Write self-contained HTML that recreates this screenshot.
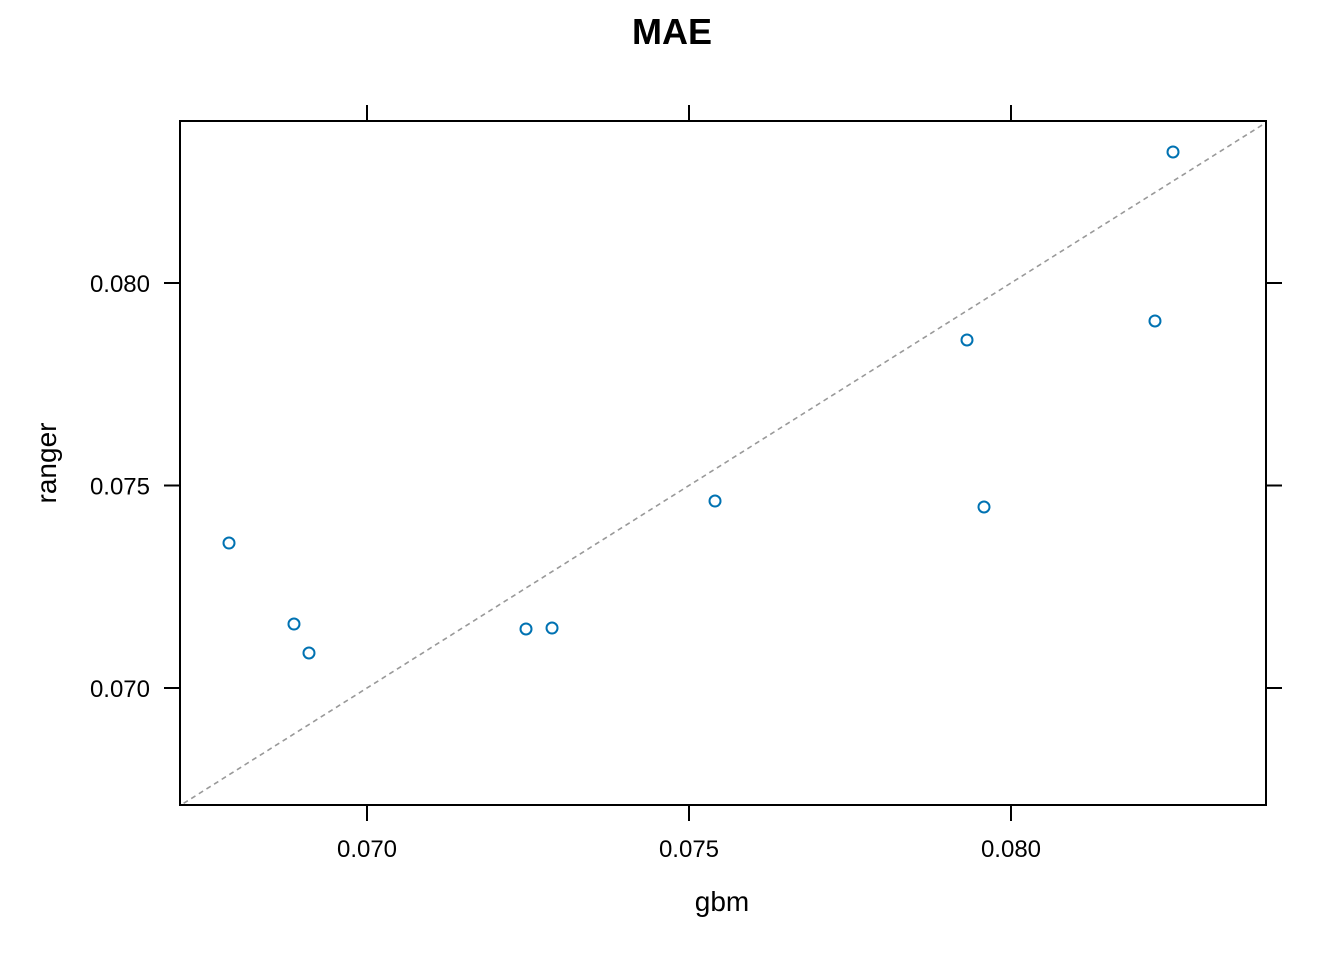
<!DOCTYPE html>
<html><head><meta charset="utf-8"><style>
html,body{margin:0;padding:0;background:#fff;width:1344px;height:960px;overflow:hidden;}
svg{display:block;font-family:"Liberation Sans",Arial,sans-serif;}
</style></head><body>
<svg id="chart" width="1344" height="960">
<text x="672" y="44" text-anchor="middle" font-size="36" font-weight="bold">MAE</text>
<text x="722" y="911" text-anchor="middle" font-size="28">gbm</text>
<text transform="translate(56,463) rotate(-90)" text-anchor="middle" font-size="28">ranger</text>
<defs><clipPath id="clip"><rect x="180" y="121" width="1086" height="684"/></clipPath></defs>
<g id="marks" clip-path="url(#clip)"></g>
<g id="axes"></g>
<rect x="180" y="121" width="1086" height="684" fill="none" stroke="#000" stroke-width="2"/>
</svg>
<script>
const gbm = [0.067857,0.068866,0.069099,0.072469,0.072873,0.075404,0.079317,0.079581,0.082236,0.082516];
const ranger = [0.073580,0.071580,0.070864,0.071457,0.071481,0.074617,0.078593,0.074469,0.079062,0.083235];
const xTicks = [0.070,0.075,0.080];
const yTicks = [0.070,0.075,0.080];
const xTickLabels = ["0.070","0.075","0.080"];
const yTickLabels = ["0.070","0.075","0.080"];

const X0=180,X1=1266,Y0=121,Y1=805;
const xMin=0.067096,xMax=0.083960,yMin=0.067111,yMax=0.084;
const sx=v=>X0+(v-xMin)/(xMax-xMin)*(X1-X0);
const sy=v=>Y1-(v-yMin)/(yMax-yMin)*(Y1-Y0);
const NS="http://www.w3.org/2000/svg";
const marks=document.getElementById('marks'), axes=document.getElementById('axes');
function mk(tag,attrs,parent){const e=document.createElementNS(NS,tag);for(const k in attrs)e.setAttribute(k,attrs[k]);parent.appendChild(e);return e;}

const lo=Math.min(xMin,yMin)-0.01, hi=Math.max(xMax,yMax)+0.01;
const diag=mk('line',{x1:sx(lo),y1:sy(lo),x2:sx(hi),y2:sy(hi),stroke:'#999',"stroke-width":1.6,"stroke-dasharray":"5,4"},marks);



gbm.forEach((g,i)=>{
  const c=mk('circle',{cx:sx(g),cy:sy(ranger[i]),r:5.5,fill:'none',stroke:'#0072B2',"stroke-width":2},marks);
  
  
});

xTicks.forEach((t,i)=>{
  const x=sx(t);
  const a=mk('line',{x1:x,y1:Y1,x2:x,y2:Y1+16,stroke:'#000',"stroke-width":2},axes);
  
  
  const b=mk('line',{x1:x,y1:Y0,x2:x,y2:Y0-16,stroke:'#000',"stroke-width":2},axes);
  
  
  const l=mk('text',{x:x,y:857,"text-anchor":"middle","font-size":24},axes);
  l.textContent=xTickLabels[i];
  
  
});
yTicks.forEach((t,i)=>{
  const y=sy(t);
  const a=mk('line',{x1:X0,y1:y,x2:X0-16,y2:y,stroke:'#000',"stroke-width":2},axes);
  
  
  const b=mk('line',{x1:X1,y1:y,x2:X1+16,y2:y,stroke:'#000',"stroke-width":2},axes);
  
  
  const l=mk('text',{x:150,y:y+9,"text-anchor":"end","font-size":24},axes);
  l.textContent=yTickLabels[i];
  
  
});
</script>
</body></html>
